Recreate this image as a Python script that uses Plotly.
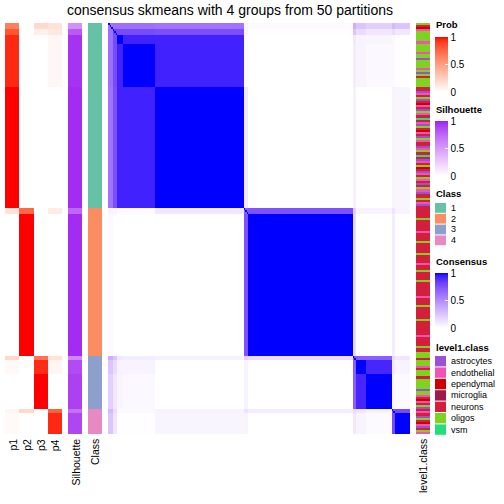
import numpy as np
import plotly.graph_objects as go

TITLE = "consensus skmeans with 4 groups from 50 partitions"

# ---- data ----
# sample segments in row order (cluster, size)
seg_sizes = [3, 3, 4, 21, 59, 3, 69, 2, 7, 17, 2, 10]
seg_class = [1, 1, 1, 1, 1, 2, 2, 3, 3, 3, 4, 4]

# membership probabilities per segment
p1 = [0.65, 0.82, 0.95, 0.95, 1.00, 0.15, 0.00, 0.20, 0.03, 0.00, 0.05, 0.03]
p2 = [0.00, 0.00, 0.00, 0.00, 0.00, 0.75, 1.00, 0.00, 0.00, 0.00, 0.20, 0.00]
p3 = [0.20, 0.08, 0.00, 0.00, 0.00, 0.00, 0.00, 0.70, 0.94, 1.00, 0.00, 0.00]
p4 = [0.15, 0.12, 0.04, 0.04, 0.00, 0.10, 0.00, 0.15, 0.05, 0.00, 0.78, 0.95]

silhouette = [0.55, 0.80, 0.95, 0.95, 0.97, 0.75, 0.97, 0.60, 0.86, 0.90, 0.70, 0.88]

# consensus between segments
cons_seg = [
    # a0   a1   a2   a3   a4   b0   b1   c0   c1   c2   d0   d1
    [0.60, 0.62, 0.62, 0.62, 0.60, 0.05, 0.02, 0.35, 0.25, 0.20, 0.30, 0.25],
    [0.62, 0.80, 0.78, 0.78, 0.76, 0.04, 0.01, 0.25, 0.15, 0.10, 0.15, 0.10],
    [0.62, 0.78, 1.00, 0.93, 0.93, 0.02, 0.00, 0.10, 0.05, 0.04, 0.03, 0.01],
    [0.62, 0.78, 0.93, 1.00, 0.93, 0.02, 0.00, 0.08, 0.05, 0.03, 0.03, 0.01],
    [0.60, 0.76, 0.93, 0.93, 1.00, 0.10, 0.00, 0.06, 0.00, 0.00, 0.05, 0.04],
    [0.05, 0.04, 0.02, 0.02, 0.10, 0.70, 0.75, 0.20, 0.05, 0.05, 0.12, 0.05],
    [0.02, 0.01, 0.00, 0.00, 0.00, 0.75, 1.00, 0.15, 0.00, 0.00, 0.08, 0.00],
    [0.35, 0.25, 0.10, 0.08, 0.06, 0.20, 0.15, 0.75, 0.70, 0.70, 0.15, 0.10],
    [0.25, 0.15, 0.05, 0.05, 0.00, 0.05, 0.00, 0.70, 1.00, 0.92, 0.10, 0.05],
    [0.20, 0.10, 0.04, 0.03, 0.00, 0.05, 0.00, 0.70, 0.92, 1.00, 0.05, 0.02],
    [0.30, 0.15, 0.03, 0.03, 0.05, 0.12, 0.08, 0.15, 0.10, 0.05, 0.75, 0.78],
    [0.25, 0.10, 0.01, 0.01, 0.04, 0.05, 0.00, 0.10, 0.05, 0.02, 0.78, 1.00],
]

# level1.class per sample, one letter per sample, by cluster
level1_c1 = ("ONPEOOOOOE" "OOOOEOOAOO" "OOEOAONOOO" "O"
             "NNAENOANPE" "NAOENVNEAO" "NPENAOENNA" "EONVNAENOP" "NAENOENANO" "EANNONEAN")
level1_c2 = ("NNNNNONNNN" "NENNNNONNN" "NNONNNNENN" "ONNNNONNNN"
             "NNNENNNONN" "NNNNONNNNN" "NNENNNNONN" "OO")
level1_c3 = "ONOOOENOOO" "NOOOOOAOOE" "NPENOA"
level1_c4 = "NENAONPEANOE"

level1_codes = ["A", "E", "P", "M", "N", "O", "V"]
level1_names = ["astrocytes", "endothelial", "ependymal", "microglia", "neurons", "oligos", "vsm"]
level1_colors = ["#9b52d2", "#f052b6", "#d00000", "#a0184c", "#d41f3c", "#7ed321", "#24dd7c"]

class_names = ["1", "2", "3", "4"]
class_colors = ["#66c2a5", "#fc8d62", "#8da0cb", "#e78ac3"]

prob_labels = ["p1", "p2", "p3", "p4"]

# ---- colour helpers (LAB interpolation as in circlize::colorRamp2) ----
def srgb_to_lab(rgb):
    def lin(c):
        c = c / 255
        return c / 12.92 if c <= 0.04045 else ((c + 0.055) / 1.055) ** 2.4
    r, g, b = (lin(v) for v in rgb)
    X = 0.4124 * r + 0.3576 * g + 0.1805 * b
    Y = 0.2126 * r + 0.7152 * g + 0.0722 * b
    Z = 0.0193 * r + 0.1192 * g + 0.9505 * b
    def f(t):
        return t ** (1 / 3) if t > 0.008856 else 7.787 * t + 16 / 116
    fx, fy, fz = f(X / 0.95047), f(Y / 1.0), f(Z / 1.08883)
    return (116 * fy - 16, 500 * (fx - fy), 200 * (fy - fz))


def lab_to_hex(lab):
    L, a, b = lab
    fy = (L + 16) / 116
    fx = fy + a / 500
    fz = fy - b / 200
    def finv(t):
        return t ** 3 if t ** 3 > 0.008856 else (t - 16 / 116) / 7.787
    X, Y, Z = 0.95047 * finv(fx), finv(fy), 1.08883 * finv(fz)
    r = 3.2406 * X - 1.5372 * Y - 0.4986 * Z
    g = -0.9689 * X + 1.8758 * Y + 0.0415 * Z
    bb = 0.0557 * X - 0.2040 * Y + 1.0570 * Z
    def gam(c):
        c = max(0.0, min(1.0, c))
        return 12.92 * c if c <= 0.0031308 else 1.055 * c ** (1 / 2.4) - 0.055
    return "#%02x%02x%02x" % tuple(int(round(255 * gam(c))) for c in (r, g, bb))


def lab_ramp(c0, c1, n=21):
    l0, l1 = srgb_to_lab(c0), srgb_to_lab(c1)
    out = []
    for i in range(n):
        t = i / (n - 1)
        out.append([t, lab_to_hex(tuple(l0[k] + (l1[k] - l0[k]) * t for k in range(3)))])
    return out


def discrete(colors):
    n = len(colors)
    cs = []
    for i, c in enumerate(colors):
        cs.append([i / n, c])
        cs.append([(i + 1) / n, c])
    return cs


WHITE = (255, 255, 255)
prob_cs = lab_ramp(WHITE, (255, 0, 0))
sil_cs = lab_ramp(WHITE, (160, 32, 240))
cons_cs = lab_ramp(WHITE, (0, 0, 255))

# ---- expand to samples ----
seg_idx = np.repeat(np.arange(len(seg_sizes)), seg_sizes)
N = len(seg_idx)
rows = list(range(N))

prob_z = np.column_stack([np.array(p)[seg_idx] for p in (p1, p2, p3, p4)])
sil_z = np.array(silhouette)[seg_idx].reshape(-1, 1)
class_z = (np.array(seg_class)[seg_idx] - 1).reshape(-1, 1)
cons = np.array(cons_seg)[seg_idx][:, seg_idx]
np.fill_diagonal(cons, 1.0)
level1_str = level1_c1 + level1_c2 + level1_c3 + level1_c4
level1_z = np.array([level1_codes.index(ch) for ch in level1_str]).reshape(-1, 1)

W = H = 504
def px(x):
    return x / W
def py(y):
    return 1 - y / H

FONT = "Liberation Sans, Arial, sans-serif"

def cbar(top, length):
    return dict(x=px(435), xanchor="left", xpad=0, y=py(top), yanchor="top", ypad=0,
                len=length, lenmode="pixels", thickness=13, thicknessmode="pixels",
                outlinewidth=0, tickvals=[0, 0.5, 1], ticktext=["0", "0.5", "1"],
                ticks="inside", ticklen=3, tickcolor="white",
                tickfont=dict(family=FONT, size=10, color="black"))

fig = go.Figure()
fig.add_trace(go.Heatmap(z=prob_z, x=[0, 1, 2, 3], y=rows, xaxis="x", yaxis="y",
                         colorscale=prob_cs, zmin=0, zmax=1, zsmooth=False,
                         colorbar=cbar(37, 55)))
fig.add_trace(go.Heatmap(z=sil_z, x=[0], y=rows, xaxis="x2", yaxis="y",
                         colorscale=sil_cs, zmin=0, zmax=1, zsmooth=False,
                         colorbar=cbar(121, 55)))
fig.add_trace(go.Heatmap(z=class_z, x=[0], y=rows, xaxis="x3", yaxis="y",
                         colorscale=discrete(class_colors), zmin=-0.5, zmax=3.5,
                         zsmooth=False, showscale=False))
fig.add_trace(go.Heatmap(z=cons, x=rows, y=rows, xaxis="x4", yaxis="y",
                         colorscale=cons_cs, zmin=0, zmax=1, zsmooth=False,
                         colorbar=cbar(273, 55)))
fig.add_trace(go.Heatmap(z=level1_z, x=[0], y=rows, xaxis="x5", yaxis="y",
                         colorscale=discrete(level1_colors), zmin=-0.5,
                         zmax=len(level1_colors) - 0.5, zsmooth=False, showscale=False))

hidden = dict(showticklabels=False, showgrid=False, zeroline=False, ticks="", showline=False)
domains = {"xaxis": (5, 62), "xaxis2": (68, 82), "xaxis3": (88, 102),
           "xaxis4": (108, 410), "xaxis5": (416, 430)}
layout = dict(width=W, height=H, margin=dict(l=0, r=0, t=0, b=0),
              paper_bgcolor="white", plot_bgcolor="white", showlegend=False,
              font=dict(family=FONT, color="black"))
for k, (a, b) in domains.items():
    layout[k] = dict(domain=[px(a), px(b)], anchor="y", **hidden)
layout["yaxis"] = dict(domain=[py(434), py(23)], range=[N - 0.5, -0.5], **hidden)
fig.update_layout(**layout)

ann = []
ann.append(dict(text=TITLE, x=px(230), y=py(10), xref="paper", yref="paper",
                showarrow=False, font=dict(size=14, family=FONT), xanchor="center", yanchor="middle"))

# bottom column labels
bottom = [(p, 12.5 + 14.25 * i) for i, p in enumerate(prob_labels)]
bottom += [("Silhouette", 75), ("Class", 95), ("level1.class", 423)]
for txt, xc in bottom:
    ann.append(dict(text=txt, x=px(xc), y=py(437), xref="paper", yref="paper",
                    showarrow=False, textangle=-90, xanchor="center", yanchor="top",
                    font=dict(size=10.5, family=FONT)))

# legend titles
for txt, yc in [("Prob", 24), ("Silhouette", 109), ("Class", 193),
                ("Consensus", 261), ("level1.class", 347)]:
    ann.append(dict(text="<b>%s</b>" % txt, x=px(434), y=py(yc), xref="paper", yref="paper",
                    showarrow=False, xanchor="left", yanchor="middle",
                    font=dict(size=9.5, family=FONT)))

shapes = []
def legend_items(names, colors, y0, step):
    for i, (nm, col) in enumerate(zip(names, colors)):
        top = y0 + i * step
        shapes.append(dict(type="rect", xref="paper", yref="paper", x0=px(435), x1=px(446),
                           y0=py(top + step - 1), y1=py(top), fillcolor=col,
                           line=dict(width=0)))
        ann.append(dict(text=nm, x=px(449), y=py(top + (step - 1) / 2), xref="paper",
                        yref="paper", showarrow=False, xanchor="left", yanchor="middle",
                        font=dict(size=9, family=FONT)))

legend_items(class_names, class_colors, 203, 10.8)
legend_items(level1_names, level1_colors, 356, 11.4)

fig.update_layout(annotations=ann, shapes=shapes)
fig.write_html("out.html", config={"displayModeBar": False},
               post_script="document.body.style.margin='0';document.body.style.overflow='hidden';")
